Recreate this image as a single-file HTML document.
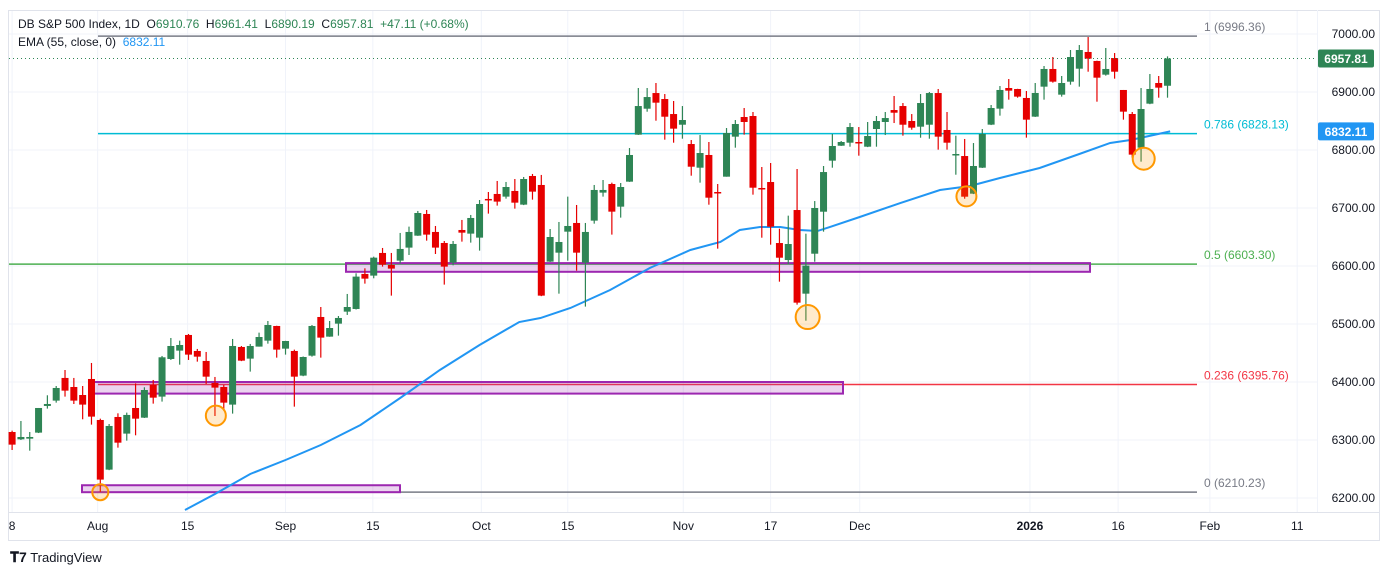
<!DOCTYPE html>
<html><head><meta charset="utf-8"><style>
body{margin:0;background:#fff;font-family:"Liberation Sans",sans-serif}
svg{display:block}
</style></head><body>
<svg id="chart" width="1388" height="575" xmlns="http://www.w3.org/2000/svg" font-family="Liberation Sans, sans-serif"></svg>
<script>
const opens=[6313.8,6301.2,6302.3,6312.7,6358.7,6367.9,6407.0,6391.4,6377.6,6405.2,6334.5,6248.9,6339.7,6311.0,6355.2,6338.5,6394.9,6374.8,6439.7,6454.1,6481.1,6453.5,6436.3,6398.3,6391.4,6361.0,6460.4,6440.3,6461.0,6471.3,6496.6,6457.5,6453.5,6411.0,6445.4,6512.1,6478.2,6500.6,6521.3,6525.9,6586.3,6583.4,6622.5,6601.8,6609.2,6631.7,6652.3,6689.7,6658.7,6639.7,6605.8,6662.1,6655.8,6648.9,6715.6,6724.2,6719.6,6729.4,6705.8,6755.2,6739.7,6607.5,6623.0,6659.2,6674.2,6605.8,6678.2,6726.5,6741.4,6702.3,6745.4,6826.4,6871.2,6898.2,6887.9,6862.0,6843.6,6810.3,6769.5,6791.4,6727.6,6754.0,6823.0,6856.9,6858.6,6734.5,6744.8,6639.6,6610.3,6696.5,6552.3,6621.2,6693.6,6781.6,6807.4,6812.6,6813.8,6805.7,6836.2,6848.3,6868.9,6875.8,6850.0,6840.2,6843.6,6898.2,6834.5,6791.9,6789.6,6724.7,6769.5,6843.7,6871.3,6906.9,6905.2,6889.7,6857.5,6909.2,6939.7,6895.4,6917.8,6940.2,6969.0,6953.5,6929.9,6958.6,6903.5,6862.1,6804.0,6879.9,6915.5,6910.76];
const highs=[6316.1,6332.8,6313.8,6355.2,6377.1,6393.1,6420.7,6407.0,6393.1,6432.8,6336.8,6327.6,6346.0,6347.2,6397.7,6390.9,6403.5,6444.9,6475.9,6471.3,6482.8,6457.0,6451.8,6408.7,6394.9,6474.2,6462.1,6465.6,6485.1,6505.2,6497.0,6471.0,6455.8,6444.0,6498.3,6529.3,6505.2,6513.8,6551.8,6587.4,6596.0,6616.1,6631.1,6622.5,6657.0,6667.9,6694.9,6696.6,6669.0,6643.1,6643.1,6679.4,6688.0,6713.8,6727.6,6746.6,6744.9,6750.0,6753.5,6758.7,6757.0,6663.8,6675.9,6719.6,6705.2,6674.2,6739.7,6748.3,6743.7,6743.1,6803.4,6906.9,6906.9,6915.5,6896.5,6884.5,6875.8,6817.2,6825.8,6813.8,6741.4,6837.9,6851.7,6872.4,6865.5,6770.7,6777.6,6664.3,6686.8,6767.2,6655.7,6712.0,6772.4,6827.6,6815.5,6846.5,6839.6,6848.3,6858.6,6865.5,6893.1,6881.0,6862.0,6896.5,6900.0,6905.2,6865.5,6824.7,6819.0,6812.0,6836.2,6877.6,6910.3,6922.4,6905.5,6901.7,6915.5,6944.8,6960.3,6927.6,6972.4,6981.0,6994.8,6954.0,6975.9,6967.2,6903.5,6865.5,6906.9,6931.0,6927.6,6961.41];
const lows=[6282.8,6300.0,6281.6,6312.0,6354.1,6364.4,6374.8,6362.1,6335.7,6326.5,6210.4,6248.0,6286.8,6298.9,6308.1,6338.0,6362.7,6366.2,6438.0,6429.9,6438.0,6435.1,6396.6,6341.4,6350.6,6345.5,6436.0,6417.9,6461.0,6466.1,6442.0,6447.2,6357.5,6410.0,6443.7,6442.0,6478.0,6479.9,6515.6,6525.0,6569.6,6578.8,6598.9,6548.9,6604.6,6619.0,6652.0,6643.7,6620.7,6567.9,6601.2,6642.0,6640.3,6626.5,6690.3,6704.1,6716.1,6698.9,6705.0,6714.4,6548.0,6607.0,6552.3,6609.2,6592.0,6530.0,6673.0,6719.6,6654.1,6683.4,6745.0,6826.0,6866.0,6850.5,6817.8,6812.6,6819.5,6755.7,6743.7,6705.7,6629.9,6754.0,6804.0,6826.4,6723.0,6648.8,6636.8,6573.0,6603.4,6533.3,6505.7,6607.4,6659.2,6769.5,6807.0,6805.7,6790.2,6805.0,6805.7,6825.8,6846.5,6824.7,6835.0,6821.2,6819.5,6800.6,6800.6,6757.4,6716.0,6724.0,6769.0,6843.0,6859.2,6886.8,6890.2,6821.3,6857.0,6886.8,6916.1,6892.0,6912.6,6909.2,6935.0,6883.3,6928.2,6923.0,6852.3,6786.8,6779.9,6879.0,6890.2,6890.19];
const closes=[6292.0,6305.2,6305.2,6355.2,6362.1,6389.7,6385.1,6367.9,6361.0,6340.3,6231.7,6324.2,6295.4,6343.2,6336.8,6386.2,6373.0,6442.6,6462.1,6463.8,6447.2,6443.7,6409.2,6390.3,6364.4,6462.1,6436.8,6462.1,6477.6,6498.3,6455.8,6470.7,6409.2,6443.1,6496.6,6476.5,6493.1,6510.4,6529.3,6581.7,6578.2,6614.4,6602.3,6595.5,6629.4,6658.7,6691.4,6654.1,6631.7,6598.9,6638.0,6657.5,6682.8,6706.9,6714.4,6711.0,6736.2,6709.2,6750.0,6728.2,6548.9,6650.0,6641.4,6669.0,6623.0,6658.7,6731.1,6731.1,6693.7,6736.2,6791.4,6875.8,6891.3,6881.6,6857.4,6836.8,6851.7,6771.2,6794.8,6717.8,6726.4,6829.3,6844.8,6848.3,6735.0,6732.2,6667.8,6614.3,6637.9,6536.8,6600.6,6700.0,6762.0,6806.9,6813.8,6839.6,6812.6,6824.1,6850.0,6855.1,6864.3,6843.6,6838.5,6881.0,6898.2,6823.0,6812.6,6793.1,6719.5,6772.4,6827.6,6872.4,6903.5,6902.3,6892.0,6852.3,6898.3,6939.7,6917.8,6915.5,6960.3,6972.4,6957.5,6924.7,6939.7,6935.0,6866.1,6792.0,6870.7,6905.2,6907.5,6957.81];
const emaIdx=[19.6,23,27,31,35,39.5,44,48.5,53,57.5,59.9,63.3,67.8,72.3,76.9,80.3,82.5,84.8,87.1,89.3,91.3,92.7,96.1,100.7,105.2,108.6,112,116.5,121,124.5,126.8,131.3];
const emaVals=[6179.3,6206.9,6241.4,6265.5,6291.4,6325.9,6372.4,6420.7,6463.8,6503.4,6510.3,6527.6,6558.6,6596.6,6627.6,6641.4,6662.1,6667.2,6667.2,6662.1,6660.3,6667.2,6684.5,6708.6,6731.0,6737.9,6751.7,6769.0,6793.1,6812.1,6817.2,6832.1];
const priceTicks=[6200,6300,6400,6500,6600,6700,6800,6900,7000];
const dateLabels=["8","Aug","15","Sep","15","Oct","15","Nov","17","Dec","2026","16","Feb","11"];
const dateIdx=[0,9.7,19.9,31,40.9,53.2,63,76.1,86,96.1,115.4,125.4,135.8,145.7];
const fibLevels=[6996.36,6828.13,6603.30,6395.76,6210.23];
const fibNames=["1","0.786","0.5","0.236","0"];
const fibColors=["#787b86","#00bcd4","#4caf50","#f23645","#787b86"];

const X=i=>12.1+8.82*i, Y=p=>34+(7000-p)*0.58;
const svg=document.getElementById('chart'), NS="http://www.w3.org/2000/svg";
function mk(tag,attrs,parent){const e=document.createElementNS(NS,tag);for(const k in attrs)e.setAttribute(k,attrs[k]);(parent||svg).appendChild(e);return e;}

// frame
let fr=mk('rect',{x:8.5,y:10.5,width:1371,height:530,fill:'none',stroke:'#e0e3eb'});


mk('line',{x1:8,y1:512.5,x2:1380,y2:512.5,stroke:'#e0e3eb'});
mk('line',{x1:1317.5,y1:10,x2:1317.5,y2:512,stroke:'#f0f3fa'});
// grid
priceTicks.forEach(p=>{
  let g=mk('line',{x1:9,x2:1317,y1:Y(p),y2:Y(p),stroke:'#f0f3fa'});
  
  
  let t=mk('text',{x:1375,y:Y(p)+4,'text-anchor':'end','font-size':12,fill:'#131722'});
  t.textContent=p.toFixed(2);
  
  
});
dateLabels.forEach((d,k)=>{
  const x=X(dateIdx[k]);
  let g=mk('line',{x1:x,x2:x,y1:11,y2:512,stroke:'#f0f3fa'});
  
  
  let t=mk('text',{x:x,y:530,'text-anchor':'middle','font-size':12,fill:'#131722','font-weight':d==='2026'?'bold':'normal'});
  t.textContent=d;
  
  
});
// fib lines
fibLevels.forEach((v,k)=>{
  const y=Y(v);
  let l=mk('line',{x1:k===2?9:98,x2:1197,y1:y,y2:y,stroke:fibColors[k],'stroke-width':1.5});
  
  
  let t=mk('text',{x:1204,y:y-5,'font-size':12,fill:fibColors[k]});
  t.textContent=fibNames[k]+' ('+v.toFixed(2)+')';
  
  
});
// zones
[[82,400,6222,6210],[93,843,6400,6380],[346,1090,6605,6590]].forEach(z=>{
  let r=mk('rect',{x:z[0],y:Y(z[2]),width:z[1]-z[0],height:Y(z[3])-Y(z[2]),fill:'rgba(156,39,176,0.2)',stroke:'#9c27b0','stroke-width':2});
  
  
});
// ema
let pts=emaIdx.map((i,k)=>X(i)+','+Y(emaVals[k])).join(' ');
let ema=mk('polyline',{points:pts,fill:'none',stroke:'#2196f3','stroke-width':2});


// candles
opens.forEach((o,i)=>{
  const c=closes[i],up=c>=o,col=up?'#2e8555':'#e60000',x=X(i);
  let w=mk('line',{x1:x,x2:x,y1:Y(highs[i]),y2:Y(lows[i]),stroke:col,'stroke-width':1.2});
  
  
  const t=Y(Math.max(o,c)),b=Y(Math.min(o,c));
  let r=mk('rect',{x:x-3.5,y:t,width:7,height:Math.max(1.5,b-t),fill:col});
  
  
});
// circles
[[10,6210],[23.1,6342],[90.2,6512],[108.2,6720],[128.3,6785]].forEach((c,k)=>{
  let e=mk('circle',{cx:X(c[0]),cy:Y(c[1]),r:[8,10,12,10,11][k],fill:'rgba(255,152,0,0.2)',stroke:'#ff9800','stroke-width':2});
  
  
});
// last price line
const lp=closes[closes.length-1];
mk('line',{x1:9,x2:1317,y1:Y(lp),y2:Y(lp),stroke:'#2e8555','stroke-dasharray':'1,3'});
let pb=mk('rect',{x:1318,y:Y(lp)-9,width:56,height:18,rx:2,fill:'#2e8555'});


let pt=mk('text',{x:1346,y:Y(lp)+4.5,'text-anchor':'middle','font-size':12,'font-weight':'bold',fill:'#fff'});pt.textContent=lp.toFixed(2);
const le=emaVals[emaVals.length-1];
let eb=mk('rect',{x:1318,y:Y(le)-9,width:56,height:18,rx:2,fill:'#2196f3'});


let et=mk('text',{x:1346,y:Y(le)+4.5,'text-anchor':'middle','font-size':12,'font-weight':'bold',fill:'#fff'});et.textContent='6832.11';
</script>
<div style="position:absolute;left:18px;top:15px;font-size:12px;color:#131722;line-height:18px;background:rgba(255,255,255,0.0)">
<div>DB S&amp;P 500 Index, 1D&nbsp;&nbsp;O<span style="color:#2e8555">6910.76</span>&nbsp;&nbsp;H<span style="color:#2e8555">6961.41</span>&nbsp;&nbsp;L<span style="color:#2e8555">6890.19</span>&nbsp;&nbsp;C<span style="color:#2e8555">6957.81</span>&nbsp;&nbsp;<span style="color:#2e8555">+47.11 (+0.68%)</span></div>
<div>EMA (55, close, 0)&nbsp;&nbsp;<span style="color:#2196f3">6832.11</span></div>
</div>
<div style="position:absolute;left:10px;top:549px;font-size:13px;color:#131722"><b style="font-size:14px">&#x1D413;7</b> TradingView</div>
</body></html>
